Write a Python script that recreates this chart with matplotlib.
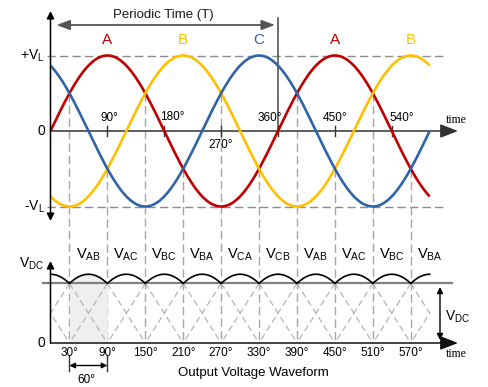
import matplotlib
matplotlib.use('Agg')
import matplotlib.pyplot as plt
import numpy as np
from matplotlib.patches import Rectangle

plt.rcParams['font.family'] = ['Liberation Sans', 'DejaVu Sans']
plt.rcParams['mathtext.fontset'] = 'custom'
plt.rcParams['mathtext.rm'] = 'Liberation Sans'
plt.rcParams['mathtext.it'] = 'Liberation Sans:italic'

# three phase supply
phaseShift = [0, -120, 120]           # A, B, C
phaseColors = ['#c00000', '#ffc000', '#2f64a8']
peakLabels = ['A', 'B', 'C', 'A', 'B']
peakAngles = [90, 210, 330, 450, 570]
peakColorIdx = [0, 1, 2, 0, 1]
topTicks = [90, 180, 270, 360, 450, 540]
topTickLabels = ['90°', '180°', '270°', '360°', '450°', '540°']
endAngle = 600
period = 360

# rectified output
pairLabels = ['AB', 'AC', 'BC', 'BA', 'CA', 'CB', 'AB', 'AC', 'BC', 'BA']
pairAngles = [60, 120, 180, 240, 300, 360, 420, 480, 540, 600]
bottomTicks = [30, 90, 150, 210, 270, 330, 390, 450, 510, 570]
bottomTickLabels = ['30°', '90°', '150°', '210°', '270°', '330°', '390°', '450°', '510°', '570°']
valleyLevel = 1.5

# layout (pixel mapping)
W, H = 489, 387
x0, pxDeg = 50.5, 0.632
top0, topScale = 131, 75.5
bot0, botScale = 343, 39.7

fig = plt.figure(figsize=(W / 100, H / 100), dpi=100)
ax1 = fig.add_axes([0, 0, 1, 1])
ax2 = fig.add_axes([0, 0, 1, 1])
for ax in (ax1, ax2):
    ax.set_xlim(-x0 / pxDeg, (W - x0) / pxDeg)
    ax.axis('off')
ax2.patch.set_visible(False)
ax1.set_ylim((top0 - H) / topScale, top0 / topScale)
ax2.set_ylim((bot0 - H) / botScale, bot0 / botScale)


def ty(p):  # pixel row -> top axis value
    return (top0 - p) / topScale


def by(p):  # pixel row -> bottom axis value
    return (bot0 - p) / botScale


dashGray = '#a6a6a6'
dash = (0, (6, 3))
fs = 8.5

theta = np.linspace(0, endAngle, 1201)
phases = [np.sin(np.radians(theta + s)) for s in phaseShift]

# ---------------- top: supply waveforms ----------------
for ph, c in zip(phases, phaseColors):
    ax1.plot(theta, ph, color=c, lw=1.9, zorder=4, solid_capstyle='butt')

for lvl in (1, -1):
    ax1.plot([-6, 624], [lvl, lvl], color='#8c8c8c', lw=1, ls=dash, zorder=1)

# vertical guides from crossing points down to the output axis
yBottom = ax1.transData.inverted().transform(ax2.transData.transform((0, 0)))[1]
for a in bottomTicks:
    vals = [np.sin(np.radians(a + s)) for s in phaseShift]
    ax1.plot([a, a], [np.median(vals), yBottom], color=dashGray, lw=1, ls=dash, zorder=1)

# axes
ax1.annotate('', xy=(0, ty(11)), xytext=(0, ty(221)),
             arrowprops=dict(arrowstyle='<|-|>', color='k', lw=1.1, mutation_scale=11,
                             shrinkA=0, shrinkB=0), zorder=5)
ax1.annotate('', xy=((458 - x0) / pxDeg, 0), xytext=(0, 0),
             arrowprops=dict(arrowstyle='-|>,head_length=0.9,head_width=0.35', color='#333333',
                             lw=1.1, mutation_scale=12, shrinkA=0, shrinkB=0), zorder=3)
for t in topTicks:
    ax1.plot([t, t], [-0.07, 0.07], color='#333333', lw=1, zorder=3)

tickOffs = [(2.5, ty(118)), (12, ty(117)), (0, ty(145)), (-13, ty(118)), (0, ty(118)), (16, ty(118))]
for t, lab, (dx, yy) in zip(topTicks, topTickLabels, tickOffs):
    ax1.text(t + dx, yy, lab, fontsize=fs, ha='center', va='center', zorder=6)

ax1.text((456 - x0) / pxDeg, ty(120), 'time', family='Liberation Serif', fontsize=8.5,
         ha='center', va='center')

for a, lab, ci in zip(peakAngles, peakLabels, peakColorIdx):
    ax1.text(a, ty(40), lab, color=phaseColors[ci], fontsize=11, ha='center', va='center')

ax1.text((45 - x0) / pxDeg, 1, '+V$_{\\rm L}$', fontsize=10, ha='right', va='center')
ax1.text((45 - x0) / pxDeg, 0, '0', fontsize=10, ha='right', va='center')
ax1.text((45 - x0) / pxDeg, -1, '-V$_{\\rm L}$', fontsize=10, ha='right', va='center')

# periodic time
ax1.annotate('', xy=((56.5 - x0) / pxDeg, ty(25)), xytext=((275 - x0) / pxDeg, ty(25)),
             arrowprops=dict(arrowstyle='<|-|>,head_length=0.8,head_width=0.3', color='#555555',
                             lw=1.3, mutation_scale=10, shrinkA=0, shrinkB=0))
ax1.plot([period, period], [ty(18), 0], color='#555555', lw=1.2)
ax1.text((163 - x0) / pxDeg, ty(15), 'Periodic Time (T)', fontsize=9.5, ha='center',
         va='center', color='#1a1a1a')

# ---------------- bottom: output waveform ----------------
stack = np.vstack(phases)
vdc = stack.max(axis=0) - stack.min(axis=0)
ax2.plot(theta, vdc, color='k', lw=1.2, zorder=5)
ax2.plot([(43 - x0) / pxDeg, (452 - x0) / pxDeg], [valleyLevel, valleyLevel],
         color='#808080', lw=1.6, zorder=4)

m = (theta >= bottomTicks[0]) & (theta <= bottomTicks[1])
ax2.fill_between(theta[m], 0, vdc[m], color='#efefef', lw=0, zorder=0)

clip = Rectangle((0, -1), endAngle, 5, transform=ax2.transData)
for c in range(bottomTicks[0] - 60, endAngle + 61, 60):
    for d in (-60, 60):
        ln, = ax2.plot([c, c + d], [valleyLevel, 0], color='#b5b5b5', lw=0.9, ls=(0, (5, 3)),
                       zorder=1)
        ln.set_clip_path(clip)

ax2.annotate('', xy=(0, by(261)), xytext=(0, 0),
             arrowprops=dict(arrowstyle='-|>', color='k', lw=1.1, mutation_scale=11,
                             shrinkA=0, shrinkB=0), zorder=5)
ax2.annotate('', xy=((458 - x0) / pxDeg, 0), xytext=(0, 0),
             arrowprops=dict(arrowstyle='-|>,head_length=0.9,head_width=0.35', color='#111111',
                             lw=1.1, mutation_scale=12, shrinkA=0, shrinkB=0), zorder=5)

for a, lab in zip(pairAngles, pairLabels):
    ax2.text(a, by(255), 'V$_{\\rm ' + lab + '}$', fontsize=10.5, ha='center', va='center')
for t, lab in zip(bottomTicks, bottomTickLabels):
    ax2.text(t, by(353), lab, fontsize=fs, ha='center', va='center')

ax2.text((44 - x0) / pxDeg, by(264), 'V$_{\\rm DC}$', fontsize=10, ha='right', va='center')
ax2.text((45 - x0) / pxDeg, 0, '0', fontsize=10, ha='right', va='center')
ax2.text((456 - x0) / pxDeg, by(354), 'time', family='Liberation Serif', fontsize=8.5,
         ha='center', va='center')

# ripple height marker
xr = (440 - x0) / pxDeg
ax2.annotate('', xy=(xr, by(287)), xytext=(xr, by(340)),
             arrowprops=dict(arrowstyle='<|-|>', color='k', lw=1, mutation_scale=9,
                             shrinkA=0, shrinkB=0))
ax2.text((445 - x0) / pxDeg, by(317), 'V$_{\\rm DC}$', fontsize=10, ha='left', va='center')

# 60 degree span
for t in bottomTicks[:2]:
    ax2.plot([t, t], [by(356), by(371)], color='#333333', lw=1)
ax2.annotate('', xy=(bottomTicks[0], by(365.5)), xytext=(bottomTicks[1], by(365.5)),
             arrowprops=dict(arrowstyle='<|-|>', color='k', lw=1, mutation_scale=8,
                             shrinkA=0, shrinkB=0))
ax2.text((86 - x0) / pxDeg, by(380), '60°', fontsize=fs, ha='center', va='center')
ax2.text((253 - x0) / pxDeg, by(373), 'Output Voltage Waveform', fontsize=9.5,
         ha='center', va='center')

fig.savefig('out.png', dpi=100)
